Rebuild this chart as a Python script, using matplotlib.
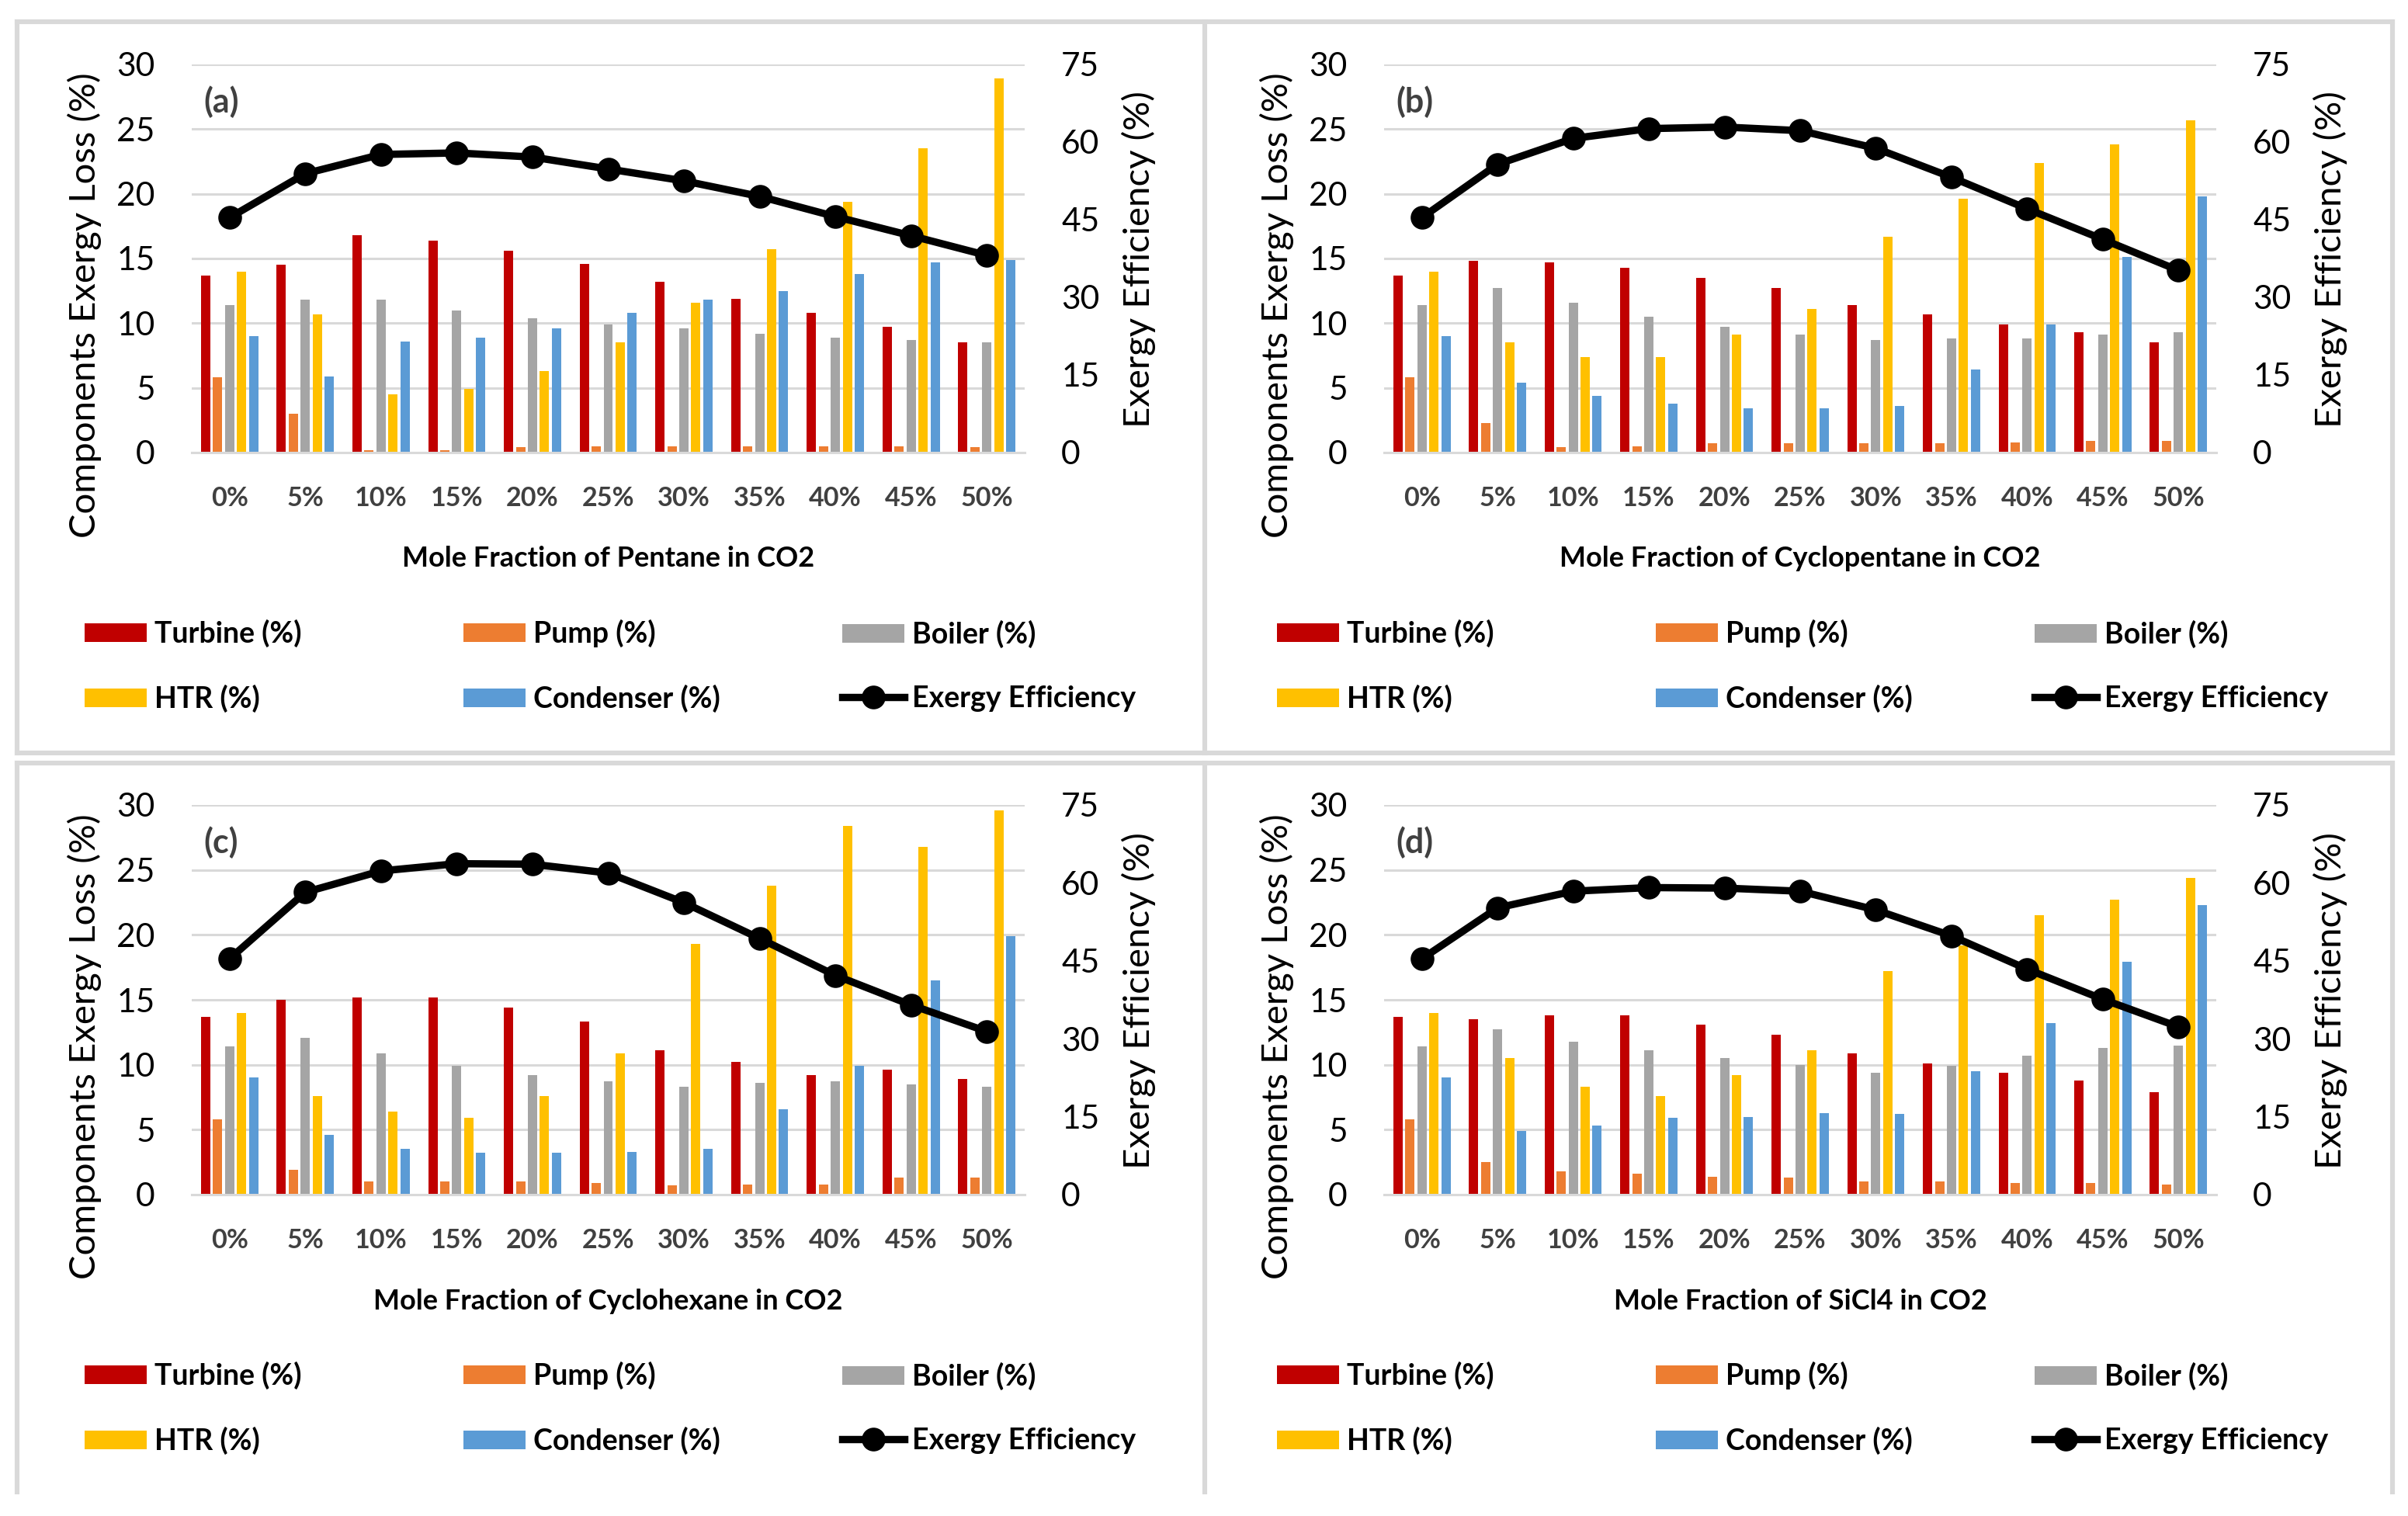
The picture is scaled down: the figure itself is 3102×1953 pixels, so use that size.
import numpy as np
import matplotlib
matplotlib.use('Agg')
import matplotlib.pyplot as plt
from matplotlib.lines import Line2D

plt.rcParams['font.family'] = ['Lato', 'DejaVu Sans']

cats = ['0%', '5%', '10%', '15%', '20%', '25%', '30%', '35%', '40%', '45%', '50%']
components = ['Turbine (%)', 'Pump (%)', 'Boiler (%)', 'HTR (%)', 'Condenser (%)']
colors = ['#C00000', '#ED7D31', '#A5A5A5', '#FFC000', '#5B9BD5']

# (a) pentane
turbine_a = [13.7, 14.5, 16.8, 16.4, 15.6, 14.6, 13.2, 11.9, 10.8, 9.7, 8.5]
pump_a = [5.8, 3.0, 0.2, 0.2, 0.4, 0.5, 0.5, 0.5, 0.5, 0.5, 0.4]
boiler_a = [11.4, 11.8, 11.8, 11.0, 10.4, 9.9, 9.6, 9.2, 8.9, 8.7, 8.5]
htr_a = [14.0, 10.7, 4.5, 4.9, 6.3, 8.5, 11.6, 15.7, 19.4, 23.5, 28.9]
cond_a = [9.0, 5.9, 8.6, 8.9, 9.6, 10.8, 11.8, 12.5, 13.8, 14.7, 14.9]
eff_a = [45.4, 53.9, 57.6, 57.9, 57.1, 54.8, 52.5, 49.5, 45.6, 41.9, 38.1]

# (b) cyclopentane
turbine_b = [13.7, 14.8, 14.7, 14.3, 13.5, 12.7, 11.4, 10.7, 9.9, 9.3, 8.5]
pump_b = [5.8, 2.3, 0.4, 0.5, 0.7, 0.7, 0.7, 0.7, 0.8, 0.9, 0.9]
boiler_b = [11.4, 12.7, 11.6, 10.5, 9.7, 9.1, 8.7, 8.8, 8.8, 9.1, 9.3]
htr_b = [14.0, 8.5, 7.4, 7.4, 9.1, 11.1, 16.7, 19.6, 22.4, 23.8, 25.7]
cond_b = [9.0, 5.4, 4.4, 3.8, 3.4, 3.4, 3.6, 6.4, 9.9, 15.1, 19.8]
eff_b = [45.4, 55.7, 60.7, 62.6, 62.9, 62.2, 58.8, 53.2, 47.1, 41.2, 35.2]

# (c) cyclohexane
turbine_c = [13.7, 15.0, 15.2, 15.2, 14.4, 13.3, 11.1, 10.2, 9.2, 9.6, 8.9]
pump_c = [5.8, 1.9, 1.0, 1.0, 1.0, 0.9, 0.7, 0.8, 0.8, 1.3, 1.3]
boiler_c = [11.4, 12.1, 10.9, 9.9, 9.2, 8.7, 8.3, 8.6, 8.7, 8.5, 8.3]
htr_c = [14.0, 7.6, 6.4, 5.9, 7.6, 10.9, 19.3, 23.8, 28.4, 26.8, 29.6]
cond_c = [9.0, 4.6, 3.5, 3.2, 3.2, 3.3, 3.5, 6.6, 9.9, 16.5, 19.9]
eff_c = [45.4, 58.2, 62.3, 63.7, 63.6, 61.9, 56.2, 49.3, 42.2, 36.5, 31.4]

# (d) SiCl4
turbine_d = [13.7, 13.5, 13.8, 13.8, 13.1, 12.3, 10.9, 10.1, 9.4, 8.8, 7.9]
pump_d = [5.8, 2.5, 1.8, 1.6, 1.4, 1.3, 1.0, 1.0, 0.9, 0.9, 0.8]
boiler_d = [11.4, 12.7, 11.8, 11.1, 10.5, 10.0, 9.4, 9.9, 10.7, 11.3, 11.5]
htr_d = [14.0, 10.5, 8.3, 7.6, 9.2, 11.1, 17.2, 19.2, 21.5, 22.7, 24.4]
cond_d = [9.0, 4.9, 5.3, 5.9, 6.0, 6.3, 6.2, 9.5, 13.2, 17.9, 22.3]
eff_d = [45.4, 55.2, 58.4, 59.1, 59.0, 58.4, 54.8, 49.8, 43.4, 37.6, 32.3]

panels = [
    ('(a)', 'Mole Fraction of Pentane in CO2', [turbine_a, pump_a, boiler_a, htr_a, cond_a], eff_a),
    ('(b)', 'Mole Fraction of Cyclopentane in CO2', [turbine_b, pump_b, boiler_b, htr_b, cond_b], eff_b),
    ('(c)', 'Mole Fraction of Cyclohexane in CO2', [turbine_c, pump_c, boiler_c, htr_c, cond_c], eff_c),
    ('(d)', 'Mole Fraction of SiCl4 in CO2', [turbine_d, pump_d, boiler_d, htr_d, cond_d], eff_d),
]

W, H = 3102, 1953
fig = plt.figure(figsize=(W / 200, H / 200), dpi=200)

# axes rectangles in pixel coords (left, top of 30 line, right, bottom 0 line)
boxes = [(247, 83, 1320, 583), (1783, 83, 2855, 583),
         (247, 1037, 1320, 1539), (1783, 1037, 2855, 1539)]
grid_c = '#D9D9D9'

for (tag, xtitle, series, eff), (l, t, r, b) in zip(panels, boxes):
    ax = fig.add_axes([l / W, 1 - b / H, (r - l) / W, (b - t) / H])
    x = np.arange(len(cats))
    bars = []
    for k, (vals, col, name) in enumerate(zip(series, colors, components)):
        bars.append(ax.bar(x + (k - 2) * 0.158, vals, width=0.123, color=col, label=name, zorder=2))
    ax.set_xlim(-0.5, 10.5)
    ax.set_ylim(0, 30)
    ax.set_yticks(range(0, 31, 5))
    ax.set_xticks(x, cats)
    ax.yaxis.grid(True, color=grid_c, lw=1.1)
    ax.set_axisbelow(True)
    for s in ax.spines.values():
        s.set_visible(False)
    ax.spines['bottom'].set_visible(True)
    ax.spines['bottom'].set_color(grid_c)
    ax.spines['bottom'].set_linewidth(1.1)
    ax.tick_params(axis='y', length=0, pad=17, labelsize=15.3, labelcolor='black')
    ax.tick_params(axis='x', length=0, pad=15.5, labelsize=12.3, labelcolor='#404040')
    for lb in ax.get_xticklabels():
        lb.set_fontweight('bold')
    ax.text(-0.129, 0.38, 'Components Exergy Loss (%)', transform=ax.transAxes, rotation=90,
            ha='center', va='center', fontsize=17)
    ax.text(0.5, -0.274, xtitle, transform=ax.transAxes, ha='center', va='center',
            fontsize=13, fontweight='bold')
    ax.text(0.014, 0.904, tag, transform=ax.transAxes, ha='left', va='center',
            fontsize=15.5, fontweight='bold', color='#404040')

    ax2 = ax.twinx()
    ax2.set_ylim(0, 75)
    ax2.set_yticks(range(0, 76, 15))
    line, = ax2.plot(x, eff, color='black', lw=3.4, marker='o', ms=10, label='Exergy Efficiency', zorder=3)
    for s in ax2.spines.values():
        s.set_visible(False)
    ax2.tick_params(axis='y', length=0, pad=17, labelsize=15.3, labelcolor='black')
    ax2.text(1.137, 0.498, 'Exergy Efficiency (%)', transform=ax.transAxes, rotation=90,
             ha='center', va='center', fontsize=17)

    # legend: three columns at fixed spacing like the original
    cols = [[(bars[0], components[0]), (bars[3], components[3])],
            [(bars[1], components[1]), (bars[4], components[4])],
            [(bars[2], components[2]), (line, 'Exergy Efficiency')]]
    leg_y = b + 275
    for j, col in enumerate(cols):
        lx = l - 138 + j * 488
        fig.legend([h for h, _ in col], [n for _, n in col], loc='center left',
                   bbox_to_anchor=(lx / W, 1 - leg_y / H), frameon=False, borderpad=0,
                   borderaxespad=0, handlelength=2.13, handleheight=0.61, handletextpad=0.27,
                   labelspacing=1.27, prop={'weight': 'bold', 'size': 13.5})

# panel frames
fx = [22 / W, 1552 / W, 3082 / W]
fy_top, fy_m1, fy_m2, fy_bot = 1 - 28 / H, 1 - 970 / H, 1 - 983 / H, 1 - 1922 / H
fr = dict(color=grid_c, lw=2.2, transform=fig.transFigure)
for yy in (fy_top, fy_m1, fy_m2):
    fig.add_artist(Line2D([fx[0], fx[2]], [yy, yy], **fr))
for xx in fx:
    fig.add_artist(Line2D([xx, xx], [fy_m1, fy_top], **fr))
    fig.add_artist(Line2D([xx, xx], [fy_bot, fy_m2], **fr))

fig.savefig('out.png', dpi=200, facecolor='white')
